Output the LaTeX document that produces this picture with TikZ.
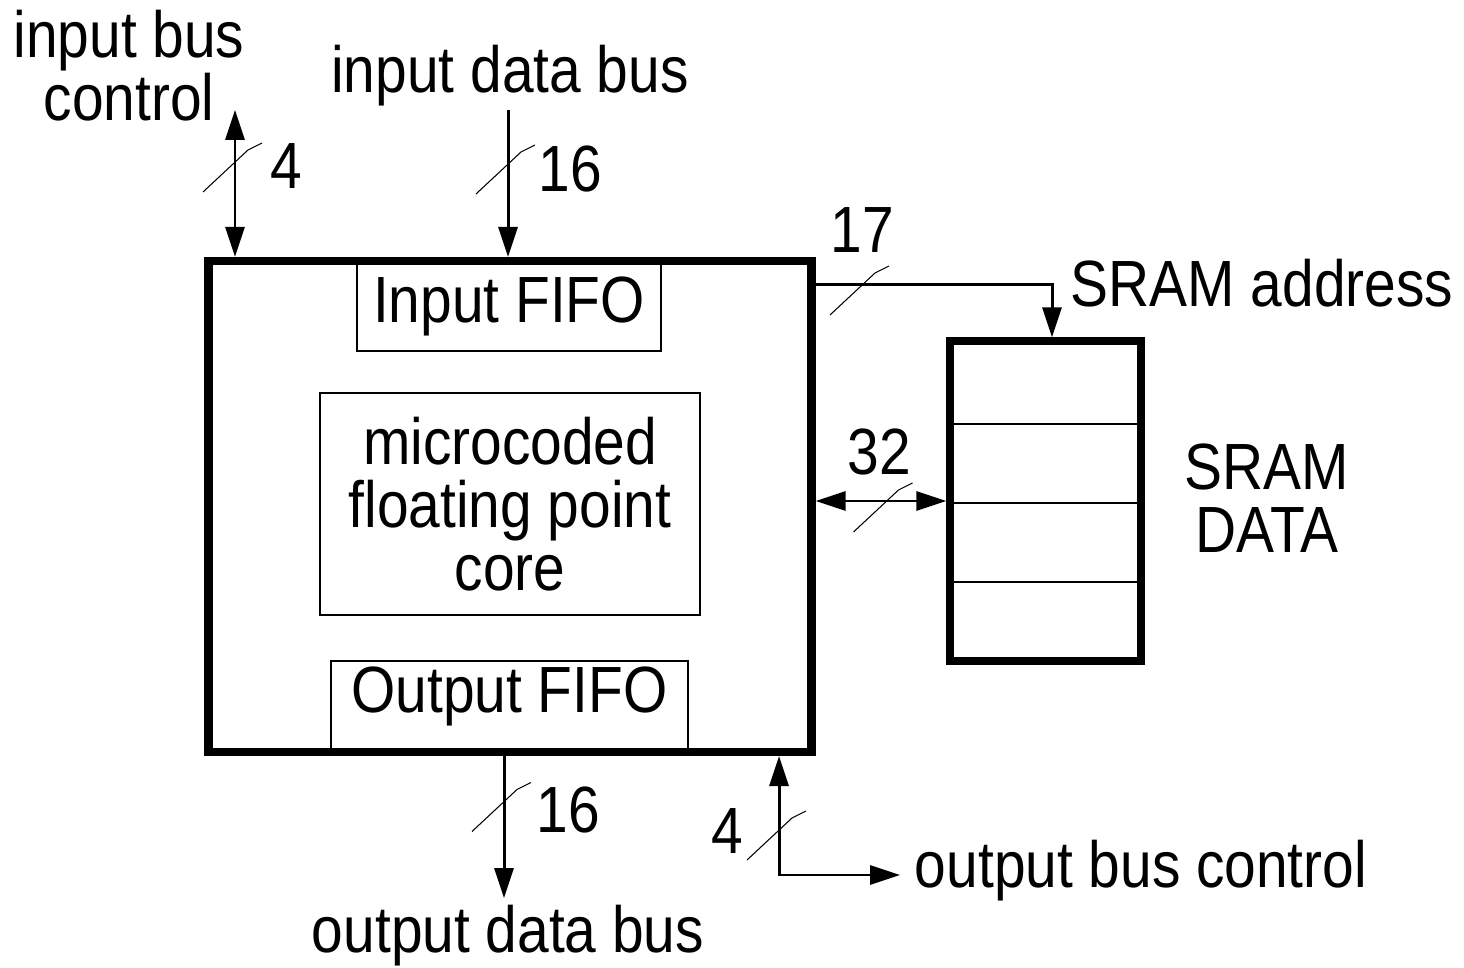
\documentclass[tikz,border=0pt]{standalone}
\usepackage{fontspec}
\setmainfont{Liberation Sans}[FakeStretch=0.87]
\usetikzlibrary{arrows.meta}

\begin{document}
\begin{tikzpicture}[
    font=\fontsize{18.6}{17.9}\selectfont,
    unit/.style={draw, line width=2.3pt, minimum width=6.03cm, minimum height=4.91cm, inner sep=0pt},
    block/.style={draw, line width=0.7pt, inner sep=0pt, align=center},
    mem/.style={draw, line width=2.1pt, minimum width=1.91cm, minimum height=3.2cm, inner sep=0pt},
    arrow/.style={-{Triangle[length=0.3cm,width=0.19cm]}, line width=0.85pt},
    twoway/.style={{Triangle[length=0.3cm,width=0.19cm]}-{Triangle[length=0.3cm,width=0.19cm]}, line width=0.85pt},
    tick/.style={line width=0.3pt},
    lbl/.style={anchor=base, inner sep=0pt}
]
\useasboundingbox (0,0) rectangle (14.64,9.67);
% processor
\node[unit] (chip) at (5.10,4.605) {};
\node[block, minimum width=3.04cm, minimum height=0.90cm] (infifo) at (5.09,6.61) {Input FIFO};
\node[block, minimum width=3.80cm, minimum height=2.22cm] (core) at (5.10,4.63) {microcoded\\floating point\\core};
\node[block, minimum width=3.57cm, minimum height=0.91cm, text height=0.47cm, text depth=0.34cm] (outfifo) at (5.095,2.605) {Output FIFO};
% memory
\node[mem] (sram) at (10.455,4.66) {};
\foreach \k in {1,2,3}
  \draw[line width=0.6pt] ([yshift=\k*0.79cm+0.04cm]sram.south west) -- ([yshift=\k*0.79cm+0.04cm]sram.south east);
\node[align=center] (sramlbl) at (12.67,4.69) {SRAM\\DATA};
% labels
\node[align=center] (ictllbl) at (1.29,9.01) {input bus\\control};
\node[lbl] (idatlbl) at (5.10,8.74) {input data bus};
\node[lbl] (ictlw) at (2.86,7.78) {4};
\node[lbl] (idatw) at (5.70,7.75) {16};
\node[lbl] (addrw) at (8.62,7.14) {17};
\node[lbl] (addrlbl) at (12.62,6.60) {SRAM address};
\node[lbl] (dataw) at (8.79,4.92) {32};
\node[lbl] (odatw) at (5.68,1.35) {16};
\node[lbl] (octlw) at (7.27,1.14) {4};
\node[lbl] (octllbl) at (11.41,0.80) {output bus control};
\node[lbl] (odatlbl) at (5.08,0.15) {output data bus};
% buses
\coordinate (ictl) at (2.35,8.57);
\coordinate (idat) at (5.08,8.57);
\coordinate (addr) at (10.52,6.82);
\coordinate (odat) at (5.04,0.69);
\coordinate (octl) at (7.79,0.92);
\coordinate (octlend) at (9.00,0.92);
\draw[twoway] (ictl) -- (ictl |- chip.north);
\draw[arrow] (idat) -- (idat |- chip.north);
\draw[arrow] (chip.east |- addr) -- (addr) -- (addr |- sram.north);
\draw[twoway] (chip.east |- sram.west) -- (sram.west);
\draw[arrow] (odat |- chip.south) -- (odat);
\draw[twoway] (octl |- chip.south) -- (octl) -- (octlend);
% bus width slashes
\foreach \p in {(2.35,8.05),(5.08,8.03),(8.62,6.82),(8.855,4.65),(5.04,1.655),(7.79,1.37)}
  \draw[tick] \p ++(-0.32,-0.30) -- ++(0.45,0.42) -- ++(0.14,0.07);
\end{tikzpicture}
\end{document}
